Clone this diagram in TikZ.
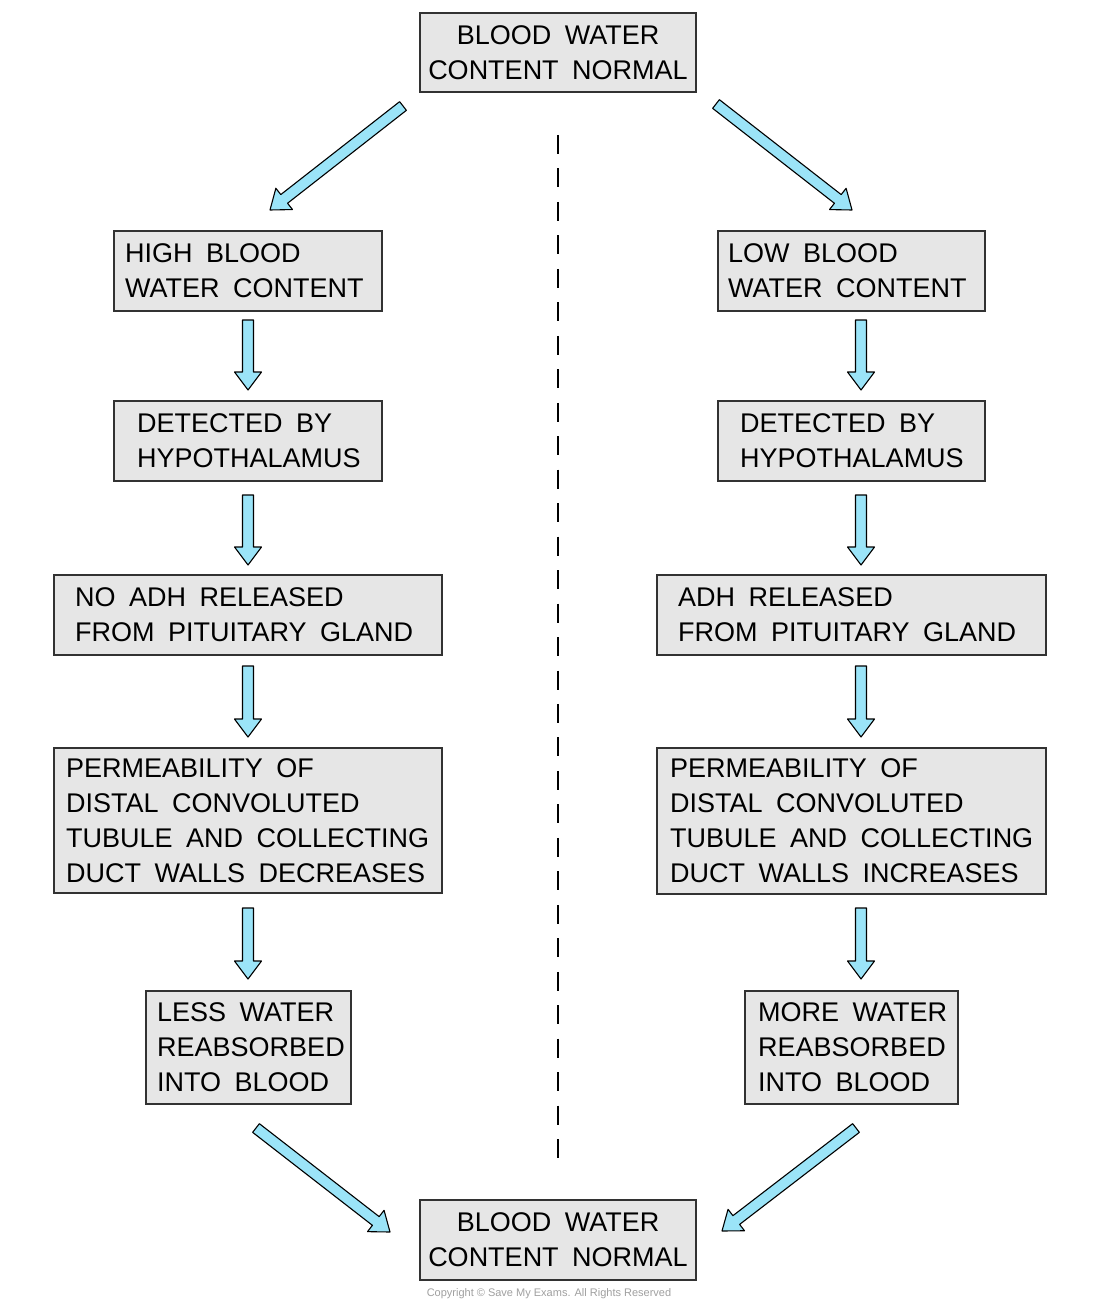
\documentclass[tikz,border=0pt]{standalone}
\usepackage{fontspec}
\setmainfont{Liberation Sans}
\usetikzlibrary{calc}
\definecolor{boxfill}{RGB}{230,230,230}
\definecolor{boxline}{RGB}{50,50,50}
\definecolor{arrfill}{RGB}{155,228,248}
\definecolor{copygray}{RGB}{160,160,160}
\tikzset{
  box/.style={draw=boxline, fill=boxfill, line width=1.2pt, inner sep=0pt, outer sep=0pt, anchor=north west},
  txt/.style={font={\fontsize{27}{35}\selectfont\spaceskip=0.5em\relax}, inner sep=0pt, align=left, anchor=west},
  ctxt/.style={font={\fontsize{27}{35}\selectfont\spaceskip=0.5em\relax}, inner sep=0pt, align=center, anchor=center},
  arrowstyle/.style={draw=black, fill=arrfill, line width=1.1pt, line join=round},
  divider/.style={draw=black, line width=1.8pt, dash pattern=on 19pt off 14.47pt},
}
% fat arrow from #1 (tail) to #2 (tip)
\newcommand\fatarrow[2]{%
  \draw[arrowstyle] let \p1=(#1), \p2=(#2),
    \n1={veclen(\x2-\x1,\y2-\y1)}, \n2={(\x2-\x1)/\n1}, \n3={(\y2-\y1)/\n1} in
    ({\x1-\n3*5.5pt},{\y1+\n2*5.5pt})
    -- ({\x2-\n2*18pt-\n3*5.5pt},{\y2-\n3*18pt+\n2*5.5pt})
    -- ({\x2-\n2*18pt-\n3*13.5pt},{\y2-\n3*18pt+\n2*13.5pt})
    -- (\p2)
    -- ({\x2-\n2*18pt+\n3*13.5pt},{\y2-\n3*18pt-\n2*13.5pt})
    -- ({\x2-\n2*18pt+\n3*5.5pt},{\y2-\n3*18pt-\n2*5.5pt})
    -- ({\x1+\n3*5.5pt},{\y1-\n2*5.5pt}) -- cycle;}
\begin{document}
\begin{tikzpicture}[x=1pt,y=1pt]
\useasboundingbox (0,0) rectangle (1100,-1305);
\fill[white] (0,0) rectangle (1100,-1305);

% divider
\coordinate (dtop) at (558,-135);
\coordinate (dbot) at (558,-1158);
\draw[divider] (dtop) -- (dbot);

% top and bottom boxes
\node[box, minimum width=276, minimum height=79,
  label={[ctxt]center:BLOOD WATER\\CONTENT NORMAL}] (top) at (420,-13) {};
\node[box, minimum width=276, minimum height=80,
  label={[ctxt]center:BLOOD WATER\\CONTENT NORMAL}] (bot) at (420,-1200) {};

% left column
\node[box, minimum width=268, minimum height=80,
  label={[txt, xshift=11]west:HIGH  BLOOD\\WATER  CONTENT}] (hl) at (114,-231) {};
\node[box, minimum width=268, minimum height=80,
  label={[txt, xshift=23]west:DETECTED  BY\\HYPOTHALAMUS}] (dl) at (114,-401) {};
\node[box, minimum width=388, minimum height=80,
  label={[txt, xshift=21]west:NO  ADH  RELEASED\\FROM  PITUITARY  GLAND}] (al) at (54,-575) {};
\node[box, minimum width=388, minimum height=145,
  label={[txt, xshift=12]west:PERMEABILITY  OF\\DISTAL  CONVOLUTED\\TUBULE  AND COLLECTING\\DUCT  WALLS  DECREASES}] (pl) at (54,-748) {};
\node[box, minimum width=205, minimum height=113,
  label={[txt, xshift=11]west:LESS  WATER\\REABSORBED\\INTO  BLOOD}] (ll) at (146,-991) {};

% right column
\node[box, minimum width=267, minimum height=80,
  label={[txt, xshift=10]west:LOW  BLOOD\\WATER  CONTENT}] (hr) at (718,-231) {};
\node[box, minimum width=267, minimum height=80,
  label={[txt, xshift=22]west:DETECTED  BY\\HYPOTHALAMUS}] (dr) at (718,-401) {};
\node[box, minimum width=389, minimum height=80,
  label={[txt, xshift=21]west:ADH  RELEASED\\FROM  PITUITARY  GLAND}] (ar) at (657,-575) {};
\node[box, minimum width=389, minimum height=146,
  label={[txt, xshift=13]west:PERMEABILITY  OF\\DISTAL  CONVOLUTED\\TUBULE  AND COLLECTING\\DUCT  WALLS  INCREASES}] (pr) at (657,-748) {};
\node[box, minimum width=213, minimum height=113,
  label={[txt, xshift=13]west:MORE  WATER\\REABSORBED\\INTO  BLOOD}] (mr) at (745,-991) {};

% arrow end points
\coordinate (tl1) at (403,-106);  \coordinate (tl2) at (270,-210);
\coordinate (tr1) at (716,-104);  \coordinate (tr2) at (852,-210);
\coordinate (bl1) at (256,-1128); \coordinate (bl2) at (390,-1232);
\coordinate (br1) at (856,-1128); \coordinate (br2) at (722,-1231);

\fatarrow{tl1}{tl2}
\fatarrow{tr1}{tr2}
\fatarrow{bl1}{bl2}
\fatarrow{br1}{br2}

% vertical arrows
\foreach \a/\b/\x in {320/390/248, 495/565/248, 666/737/248, 908/979/248,
                      320/390/861, 495/565/861, 666/737/861, 908/979/861}{
  \coordinate (va) at (\x,-\a);
  \coordinate (vb) at (\x,-\b);
  \fatarrow{va}{vb}
}

% copyright
\node[font=\fontsize{11}{13}\selectfont, text=copygray, inner sep=0pt] (copy) at (549,-1294)
  {Copyright © Save My Exams. All Rights Reserved};
\end{tikzpicture}
\end{document}
